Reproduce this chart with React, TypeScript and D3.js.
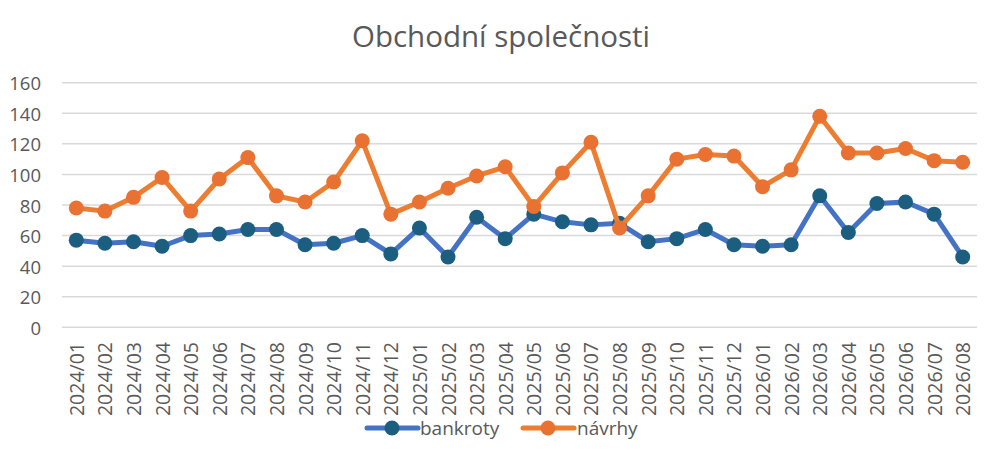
import React from "react";
import * as d3 from "d3";

const categories = [
  "2024/01","2024/02","2024/03","2024/04","2024/05","2024/06","2024/07","2024/08","2024/09","2024/10","2024/11","2024/12",
  "2025/01","2025/02","2025/03","2025/04","2025/05","2025/06","2025/07","2025/08","2025/09","2025/10","2025/11","2025/12",
  "2026/01","2026/02","2026/03","2026/04","2026/05","2026/06","2026/07","2026/08",
];
const bankroty = [57,55,56,53,60,61,64,64,54,55,60,48,65,46,72,58,74,69,67,68,56,58,64,54,53,54,86,62,81,82,74,46];
const navrhy = [78,76,85,98,76,97,111,86,82,95,122,74,82,91,99,105,79,101,121,65,86,110,113,112,92,103,138,114,114,117,109,108];
const yTicks = [0,20,40,60,80,100,120,140,160];
const title = "Obchodní společnosti";

const series = [
  { name: "bankroty", values: bankroty, line: "#4472C4", marker: "#1B5E80" },
  { name: "návrhy", values: navrhy, line: "#ED7D31", marker: "#E97132" },
];

const FONT = "'Open Sans', 'Noto Sans', sans-serif";
const TXT = "#595959";

export default function App() {
  const W = 1000, H = 458;
  const x = d3.scaleBand<string>().domain(categories).range([62, 977]);
  const y = d3.scaleLinear().domain([0, 160]).range([327.3, 82.7]);
  const cx = (c: string) => (x(c) as number) + x.bandwidth() / 2;

  const lineGen = (vals: number[]) =>
    d3.line<number>().x((_, i) => cx(categories[i])).y((v) => y(v))(vals) as string;

  const legendItems = [
    { s: series[0], x0: 367, tx: 420 },
    { s: series[1], x0: 523, tx: 577 },
  ];

  return (
    <svg width={W} height={H} style={{ position: "absolute", left: 0, top: 0, background: "#fff" }} fontFamily={FONT}>
      <rect width={W} height={H} fill="#fff" />
      <text x={501} y={47} textAnchor="middle" fontSize={29.5} fill={TXT}>{title}</text>
      {yTicks.map((t) => (
        <g key={t}>
          <line x1={62} x2={977} y1={y(t)} y2={y(t)} stroke="#D9D9D9" strokeWidth={1.5} />
          <text x={41} y={y(t)} textAnchor="end" dominantBaseline="central" fontSize={18.5} fill={TXT}>{t}</text>
        </g>
      ))}
      {categories.map((c) => (
        <text key={c} transform={`translate(${cx(c)},342) rotate(-90)`} textAnchor="end" dominantBaseline="central" fontSize={19.5} fill={TXT}>{c}</text>
      ))}
      {series.map((s) => (
        <g key={s.name}>
          <path d={lineGen(s.values)} fill="none" stroke={s.line} strokeWidth={5} strokeLinejoin="round" strokeLinecap="round" />
          {s.values.map((v, i) => (
            <circle key={i} cx={cx(categories[i])} cy={y(v)} r={7.5} fill={s.marker} />
          ))}
        </g>
      ))}
      {legendItems.map(({ s, x0, tx }) => (
        <g key={s.name}>
          <line x1={x0} x2={x0 + 51} y1={428} y2={428} stroke={s.line} strokeWidth={5} strokeLinecap="round" />
          <circle cx={x0 + 25} cy={428} r={7.5} fill={s.marker} />
          <text x={tx} y={428} dominantBaseline="central" fontSize={19} fill={TXT}>{s.name}</text>
        </g>
      ))}
    </svg>
  );
}
